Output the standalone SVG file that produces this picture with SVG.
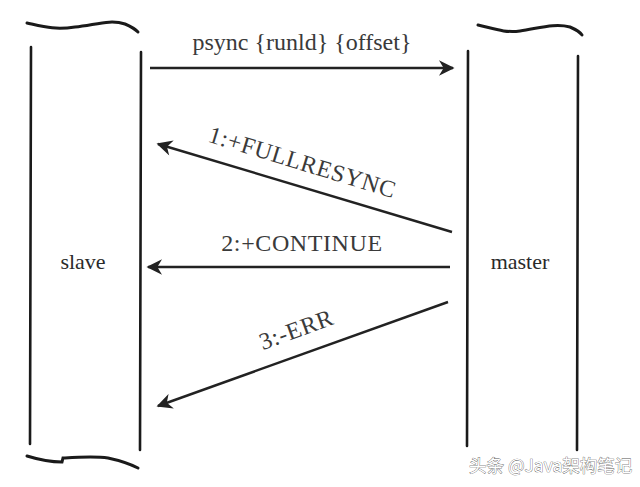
<svg xmlns="http://www.w3.org/2000/svg" width="640" height="487" viewBox="0 0 640 487">
<style>
.ln{stroke:#1a1a1a;stroke-width:2.6;fill:none;stroke-linecap:round}
.cu{stroke:#1a1a1a;stroke-width:3;fill:none;stroke-linecap:round}
.ar{stroke:#222;stroke-width:2.4;fill:none}
.t{font-family:"Liberation Serif",serif;font-size:24px;fill:#3a3a3a}
.c{font-family:"Liberation Serif",serif;font-size:24px;fill:#3a3a3a;letter-spacing:0.6px}
.n{font-family:"Liberation Serif",serif;font-size:22px;fill:#2a2a2a}
.wm{font-family:"Noto Sans CJK SC","Liberation Sans",sans-serif;font-size:17.5px;fill:#fff;stroke:#555;stroke-width:0.7;paint-order:stroke}
</style>
<defs>
<marker id="ah" viewBox="0 0 10 10" refX="9" refY="5" markerWidth="7" markerHeight="6.5" orient="auto-start-reverse" markerUnits="strokeWidth">
<path d="M0,0 L10,5 L0,10 L3,5 Z" fill="#222"/>
</marker>
</defs>
<g id="slave">
<path class="cu" d="M27,23 C45,27 55,30 75,27 C95,25 110,19 125,24 C132,27 136,30 138,32"/>
<path class="ln" d="M31,47 L30,444"/>
<path class="ln" d="M141,52 L140,450"/>
<path class="cu" d="M27,456 C40,460 50,462 62,462 L63,458 C80,457 95,456 108,458 C122,461 132,465 138,468"/>
<text class="n" x="83" y="269" text-anchor="middle">slave</text>
</g>
<g id="master">
<path class="cu" d="M478,25 C495,29 505,33 520,31 C540,28 555,23 570,27 C577,30 580,32 582,35"/>
<path class="ln" d="M468,51 L467,446"/>
<path class="ln" d="M578,56 L577,450"/>
<text class="n" x="520" y="269" text-anchor="middle">master</text>
</g>
<g id="connectors">
<line class="ar" x1="150" y1="68" x2="453" y2="68" marker-end="url(#ah)"/>
<line class="ar" x1="452" y1="232" x2="158" y2="144" marker-end="url(#ah)"/>
<line class="ar" x1="450" y1="267" x2="148" y2="267" marker-end="url(#ah)"/>
<line class="ar" x1="448" y1="302" x2="158" y2="406" marker-end="url(#ah)"/>
</g>
<g id="labels">
<text class="t" x="302" y="50" text-anchor="middle">psync {runld} {offset}</text>
<text class="c" x="0" y="0" text-anchor="middle" transform="translate(300,170) rotate(17)">1:+FULLRESYNC</text>
<text class="c" x="302" y="251" text-anchor="middle">2:+CONTINUE</text>
<text class="c" x="0" y="0" text-anchor="middle" transform="translate(299,337) rotate(-20)">3:-ERR</text>
</g>
<text class="wm" x="469" y="472">头条 @Java架构笔记</text>
</svg>
